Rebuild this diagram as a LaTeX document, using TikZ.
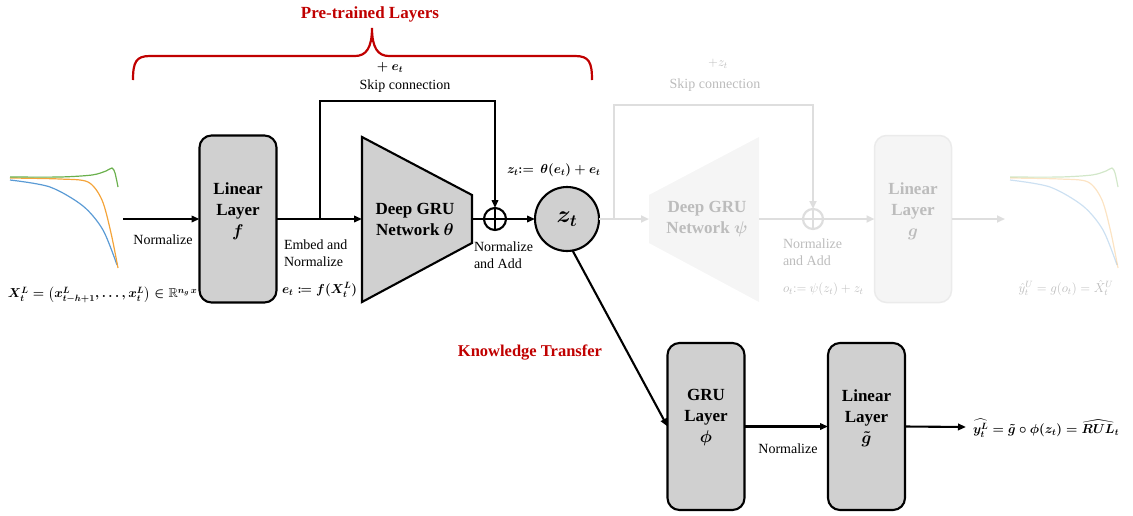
\RequirePackage{fix-cm}
\documentclass[tikz,border=0pt]{standalone}
\usepackage{amsmath,amssymb,bm,mathtools}
\usepackage{fontspec}
\setmainfont{Liberation Serif}
\usetikzlibrary{arrows.meta}
\definecolor{boxfill}{RGB}{208,208,208}
\definecolor{kred}{RGB}{192,0,0}
\definecolor{fline}{RGB}{222,222,222}
\definecolor{ftext}{RGB}{188,188,188}
\definecolor{ffill}{RGB}{245,245,245}
\definecolor{fborder}{RGB}{235,235,235}
\definecolor{cblue}{RGB}{91,155,213}
\definecolor{corange}{RGB}{244,164,58}
\definecolor{cgreen}{RGB}{106,176,76}
\begin{document}
\begin{tikzpicture}[x=1pt,y=-1pt,
  every node/.style={inner sep=0pt, outer sep=0pt},
  line/.style={line width=2.1pt, black},
  arr/.style={line, -{Triangle[length=8pt,width=6.5pt]}},
  layerbox/.style={draw, line width=2.1pt, fill=boxfill, rounded corners=12pt, minimum width=77pt, minimum height=167pt},
  boxtxt/.style={font=\fontsize{17}{21}\selectfont\bfseries\boldmath, align=center},
  lbl/.style={font=\fontsize{14}{17}\selectfont, align=left},
  mathlbl/.style={font=\fontsize{13}{16}\selectfont\boldmath},
  title/.style={font=\fontsize{17}{20}\selectfont\bfseries, text=kred},
  plus/.style={circle, draw, line width=2.1pt, minimum size=22pt},
  flin/.style={line width=2.6pt, fline},
  farr/.style={flin, -{Triangle[length=8pt,width=7pt]}},
  fbox/.style={draw=fborder, line width=1.5pt, fill=ffill, rounded corners=12pt, minimum width=77pt, minimum height=167pt},
  fboxtxt/.style={font=\fontsize{17}{21}\selectfont\bfseries\boldmath, align=center, text=ftext},
  flbl/.style={font=\fontsize{14}{17}\selectfont, align=left, text=ftext},
  fmath/.style={font=\fontsize{13}{16}\selectfont, text=ftext},
  curve/.style={line width=1.2pt}
]
\useasboundingbox (0,0) rectangle (1133,515);

% ---------- title and brace ----------
\node[title] (pre) at (370,14) {Pre-trained Layers};
\draw[kred, line width=2.2pt] (133,80) .. controls (133,62) and (136,56) .. (150,56) -- (355,56)
  .. controls (366,56) and (372,48) .. (372,28)
  .. controls (372,48) and (378,56) .. (389,56) -- (575,56)
  .. controls (589,56) and (592,62) .. (592,80);

% ---------- input curves ----------
\draw[curve, cblue] plot[smooth] coordinates {(10,180) (50,187) (83,206) (103,230) (117,265)};
\draw[curve, corange] plot[smooth] coordinates {(10,178) (60,179) (88,182) (102,200) (111,233) (118,268)};
\draw[curve, cgreen] plot[smooth] coordinates {(10,177) (60,177) (92,175) (106,171) (112,168) (115,173) (118,187)};

\node[mathlbl, anchor=west] (xform) at (8,295) {$X_t^L = \left(x^L_{t-h+1}, \ldots, x^L_t\right) \in \mathbb{R}^{n_g\,x\,h}$};

% ---------- encoder ----------
\coordinate (inR) at (123,219);
\node[layerbox] (f) at (238,219) {};
\node[boxtxt] (ftxt) at (238,211) {Linear\\Layer\\$f$};
\draw[arr] (inR) -- (f.west);
\node[lbl] (norm1) at (163,240) {Normalize};

\coordinate (thL) at (362,219);
\coordinate (thR) at (472,219);
\draw[line, fill=boxfill, line join=miter] (362,137) -- (472,195) -- (472,243) -- (362,302) -- cycle;
\node[boxtxt] (thtxt) at (415,219) {Deep GRU\\Network $\theta$};
\draw[arr] (f.east) -- (thL);

\node[lbl, anchor=west] (embed) at (284,253) {Embed and\\Normalize};
\node[mathlbl, anchor=west] (eform) at (282,290) {$e_t \coloneqq f(X_t^L)$};

\node[plus] (plus1) at (495,219) {};
\draw[line] (plus1.north) -- (plus1.south) (plus1.west) -- (plus1.east);
\coordinate (br1) at (320,219);
\coordinate (sk1) at (495,101);
\draw[arr] (br1) |- (sk1) -- (plus1.north);
\node[mathlbl] (pe) at (390,67) {$+\ e_t$};
\node[lbl] (skip1) at (405,86) {Skip connection};
\draw[line] (thR) -- (plus1.west);
\node[lbl, anchor=west] (normadd1) at (474,255) {Normalize\\and Add};

\node[circle, draw, line width=2.1pt, fill=boxfill, minimum size=64pt, font=\fontsize{24}{28}\selectfont\boldmath] (zt) at (567,219) {$z_t$};
\draw[arr] (plus1.east) -- (zt.west);
\node[mathlbl, anchor=west] (zform) at (507,170) {$z_t{:}{=}\ \ \theta(e_t) + e_t$};

% ---------- faded decoder ----------
\coordinate (psiL) at (649,219);
\coordinate (psiR) at (759,219);
\draw[farr] (zt.east) -- (psiL);
\coordinate (br2) at (614,219);
\coordinate (sk2) at (813,105);
\node[circle, draw=fline, line width=2.2pt, minimum size=20pt] (plus2) at (813,219) {};
\draw[flin, line width=1.8pt] (plus2.north) -- (plus2.south) (plus2.west) -- (plus2.east);
\draw[farr] (br2) |- (sk2) -- (plus2.north);
\node[fmath] (pz) at (718,64) {$+z_t$};
\node[flbl] (skip2) at (715,85) {Skip connection};
\draw[fill=ffill, draw=none] (649,195) -- (759,137) -- (759,302) -- (649,243) -- cycle;
\node[fboxtxt] (psitxt) at (707,219) {Deep GRU\\Network $\psi$};
\draw[flin] (psiR) -- (plus2.west);
\node[flbl, anchor=west] (normadd2) at (783,252) {Normalize\\and Add};
\node[fmath, anchor=west] (oform) at (783,289) {$o_t{:}{=}\ \psi(z_t) + z_t$};

\node[fbox] (g) at (913,219) {};
\node[fboxtxt] (gtxt) at (913,211) {Linear\\Layer\\$g$};
\draw[farr] (plus2.east) -- (g.west);
\coordinate (outU) at (1005,219);
\draw[farr] (g.east) -- (outU);

\begin{scope}[xshift=1000pt, opacity=0.3]
\draw[curve, cblue] plot[smooth] coordinates {(10,180) (50,187) (83,206) (103,230) (117,265)};
\draw[curve, corange] plot[smooth] coordinates {(10,178) (60,179) (88,182) (102,200) (111,233) (118,268)};
\draw[curve, cgreen] plot[smooth] coordinates {(10,177) (60,177) (92,175) (106,171) (112,168) (115,173) (118,187)};
\end{scope}
\node[fmath] (yU) at (1066,288) {$\hat{y}_t^U = g(o_t) = \hat{X}_t^U$};

% ---------- knowledge transfer ----------
\node[title, font=\fontsize{16.5}{20}\selectfont\bfseries] (kt) at (530,353) {Knowledge Transfer};
\node[layerbox] (phi) at (706,426.5) {};
\node[boxtxt] (phitxt) at (706,418) {GRU\\Layer\\$\phi$};
\node[layerbox] (gt) at (866.5,426.5) {};
\node[boxtxt] (gttxt) at (866.5,418) {Linear\\Layer\\$\tilde{g}$};
\draw[arr] (zt.-80) -- (phi.west);
\draw[arr] (phi.east) -- (gt.west);
\node[lbl] (norm3) at (788,449) {Normalize};
\coordinate (outL) at (966,427);
\draw[arr] (gt.east) -- (outL);
\node[mathlbl, anchor=west] (yout) at (973,428) {$\widehat{y_t^L} = \tilde{g}\circ\phi(z_t) = \widehat{RUL}_t$};
\end{tikzpicture}
\end{document}
